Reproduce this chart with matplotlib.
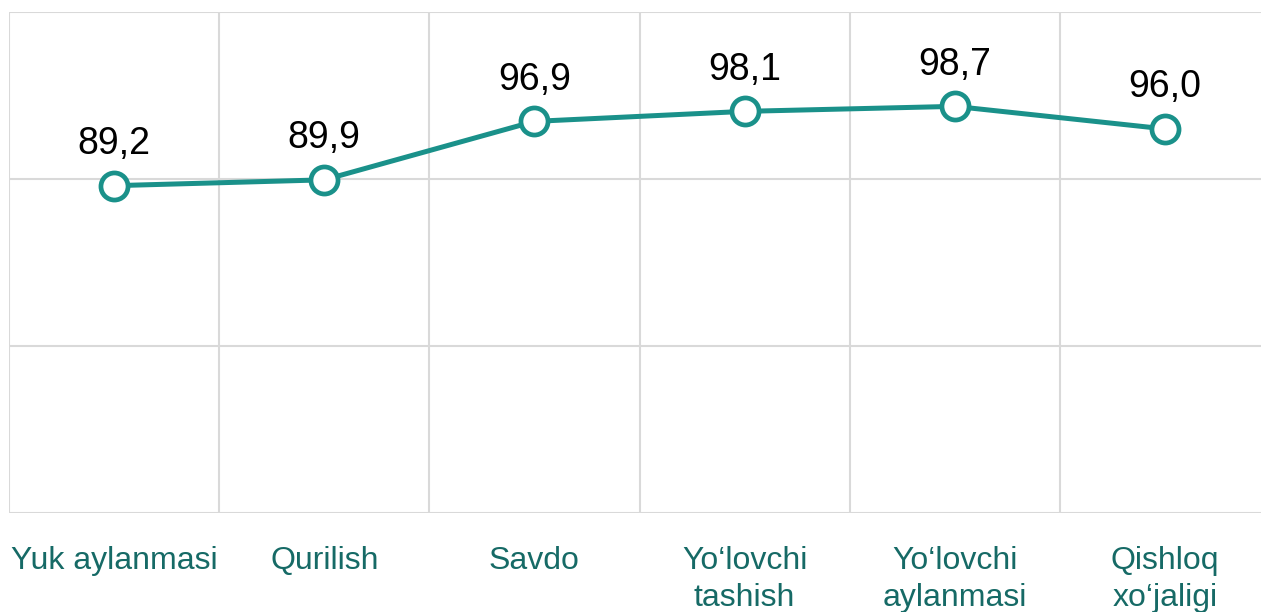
import numpy as np
import matplotlib.pyplot as plt
from matplotlib.ticker import FixedLocator

plt.rcParams['font.family'] = ['Liberation Sans', 'DejaVu Sans']

# Ma'lumotlar
categories = ["Yuk aylanmasi", "Qurilish", "Savdo",
              "Yo\u2018lovchi\ntashish", "Yo\u2018lovchi\naylanmasi", "Qishloq\nxo\u2018jaligi"]
values = [89.2, 89.9, 96.9, 98.1, 98.7, 96.0]
value_labels = ["89,2", "89,9", "96,9", "98,1", "98,7", "96,0"]

line_color = '#1a918a'
text_color = '#166a66'
grid_color = '#d9d9d9'

fig = plt.figure(figsize=(12.61, 6.12), dpi=100)
ax = fig.add_axes([9 / 1261, 1 - 513 / 612, 1261 / 1261, (513 - 12) / 612])

x = np.arange(len(categories))
ax.plot(x, values, color=line_color, linewidth=3.6, marker='o', markersize=19.5,
        markerfacecolor='white', markeredgecolor=line_color, markeredgewidth=3.4, zorder=3)

for xi, v, lab in zip(x, values, value_labels):
    ax.annotate(lab, (xi, v), xytext=(0, 17), textcoords='offset points',
                ha='center', va='bottom', fontsize=27, color='black')

ax.set_xlim(-0.5, len(categories) - 0.5)
ax.set_ylim(50, 110)
ax.set_yticks([50, 70, 90, 110])
ax.set_yticklabels([])
ax.set_xticks(x)
ax.set_xticklabels(categories, fontsize=23, color=text_color, va='top', linespacing=1.3)
ax.xaxis.set_minor_locator(FixedLocator(np.arange(-0.5, len(categories), 1.0)))

ax.tick_params(axis='both', which='both', length=0)
ax.tick_params(axis='x', which='major', pad=24)
ax.grid(True, axis='y', which='major', color=grid_color, linewidth=1.5)
ax.grid(True, axis='x', which='minor', color=grid_color, linewidth=1.5)
for s in ax.spines.values():
    s.set_visible(False)

fig.savefig('out.png', dpi=100)
